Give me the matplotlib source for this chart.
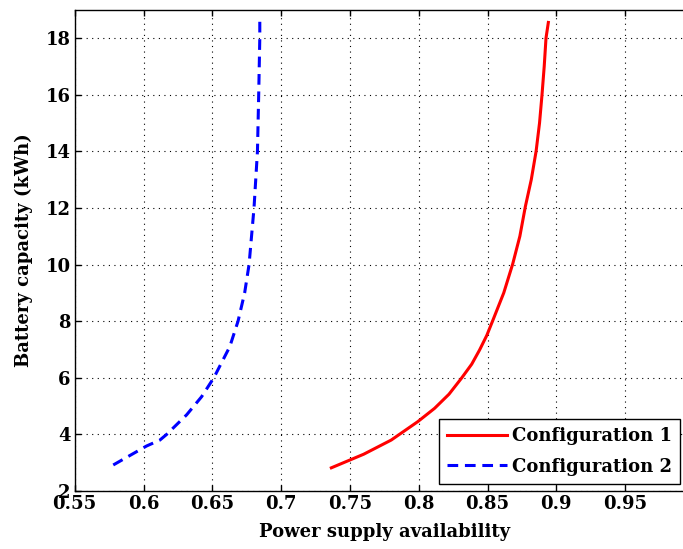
import matplotlib.pyplot as plt

# Configuration 1 (red, solid)
avail_1 = [0.7365, 0.760, 0.780, 0.7993, 0.8115, 0.822, 0.831, 0.8385, 0.8442,
           0.8495, 0.8538, 0.8618, 0.8683, 0.8735, 0.8775, 0.8818, 0.8853,
           0.8878, 0.8896, 0.8912, 0.8925, 0.8942]
battery_1 = [2.82, 3.30, 3.80, 4.45, 4.92, 5.42, 5.98, 6.48, 6.98,
             7.50, 8.02, 9.0, 10.02, 11.0, 12.05, 13.0, 14.0,
             15.0, 16.0, 17.0, 18.0, 18.55]

# Configuration 2 (blue, dashed)
avail_2 = [0.578, 0.6022, 0.6119, 0.6168, 0.6313, 0.6422, 0.6511, 0.6627,
           0.6687, 0.6735, 0.6767, 0.6803, 0.6828, 0.6837, 0.6845, 0.6845]
battery_2 = [2.92, 3.59, 3.80, 4.0, 4.69, 5.33, 6.0, 7.1,
             8.0, 9.0, 10.0, 12.0, 14.0, 16.0, 18.0, 18.58]

xticks = [0.55, 0.6, 0.65, 0.7, 0.75, 0.8, 0.85, 0.9, 0.95]
yticks = [2, 4, 6, 8, 10, 12, 14, 16, 18]

plt.rcParams["font.family"] = "DejaVu Serif"
plt.rcParams["font.weight"] = "bold"
plt.rcParams["axes.labelweight"] = "bold"
font = 13

fig = plt.figure(figsize=(6.83, 5.49), dpi=100)
ax = fig.add_axes([0.1094, 0.1056, 0.9066, 0.8767])

ax.plot(avail_1, battery_1, "-", color="red", lw=2.2, label="Configuration 1")
ax.plot(avail_2, battery_2, color="blue", lw=2.2, dashes=(3.5, 2.2),
        label="Configuration 2")

ax.set_xlim(0.55, 1.0)
ax.set_ylim(2, 19)
ax.set_xticks(xticks)
ax.set_xticklabels(["0.55", "0.6", "0.65", "0.7", "0.75", "0.8", "0.85", "0.9", "0.95"])
ax.set_yticks(yticks)
ax.tick_params(direction="in", length=4, width=1, top=True, right=True,
               labelsize=font, pad=3)
ax.grid(True, linestyle=(0, (1, 4)), color="black", linewidth=0.8)
for s in ax.spines.values():
    s.set_linewidth(1)

ax.set_xlabel("Power supply availability", fontsize=font, labelpad=7)
ax.set_ylabel("Battery capacity (kWh)", fontsize=font, labelpad=9)

leg = ax.legend(loc="lower right", bbox_to_anchor=(0.978, 0.015), fontsize=font,
                fancybox=False, framealpha=1, edgecolor="black", handlelength=3.3,
                borderpad=0.45, labelspacing=0.7, handletextpad=0.3,
                borderaxespad=0)
leg.get_frame().set_linewidth(1)

fig.savefig("out.png", dpi=100)
